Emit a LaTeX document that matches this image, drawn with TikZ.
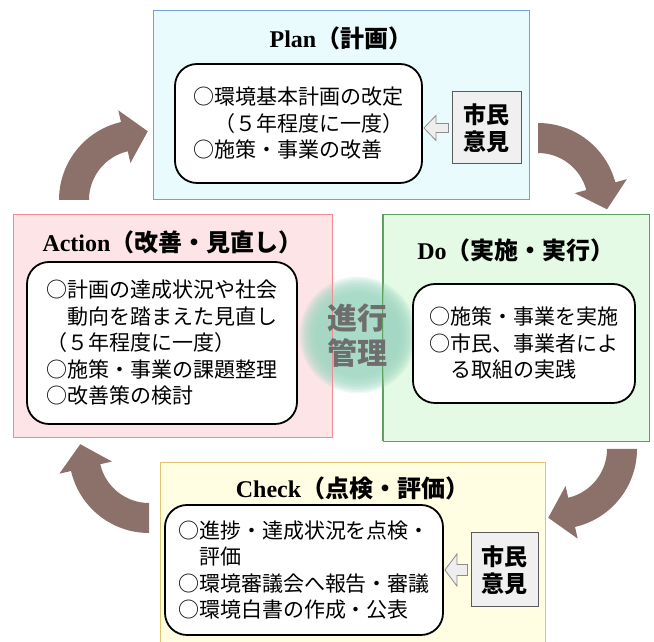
\documentclass[tikz,border=0pt]{standalone}
\usepackage{fontspec}
\setmainfont{Liberation Serif}
\newfontfamily\jp{Noto Sans CJK JP}
\usetikzlibrary{calc}

\definecolor{planfill}{RGB}{234,251,254}
\definecolor{planline}{RGB}{120,158,218}
\definecolor{dofill}{RGB}{228,250,228}
\definecolor{doline}{RGB}{96,160,96}
\definecolor{chkfill}{RGB}{255,253,226}
\definecolor{chkline}{RGB}{228,196,110}
\definecolor{actfill}{RGB}{253,228,231}
\definecolor{actline}{RGB}{240,140,145}
\definecolor{arrbrown}{RGB}{139,113,106}
\definecolor{mint}{RGB}{160,215,195}
\definecolor{kanrigray}{RGB}{110,110,110}
\definecolor{ikenfill}{RGB}{240,240,240}
\definecolor{ikenline}{RGB}{90,90,90}
\definecolor{hollowline}{RGB}{140,140,140}
\definecolor{hollowfill}{RGB}{238,238,238}

\tikzset{
  phase/.style={line width=0.9pt, inner sep=0pt},
  ttl/.style={inner sep=0pt, font=\fontsize{24}{28}\selectfont\bfseries},
  inner/.style={draw, line width=1.8pt, rounded corners=22pt, fill=white,
    align=left, inner sep=0pt, font=\jp\fontsize{21}{26.5}\selectfont},
  iken/.style={draw=ikenline, line width=1pt, fill=ikenfill, align=center,
    inner sep=0pt, font=\jp\bfseries\fontsize{23}{27}\selectfont},
  hollow/.style={draw=hollowline, fill=hollowfill, line width=0.8pt, line join=miter},
  arr/.style={fill=arrbrown},
  glowring/.style={fill=mint, opacity=0.17},
}

\newcommand{\hollowarrow}[4]{%
  \draw[hollow] let \p1=(#1.west), \p2=(#2.east) in
    (\x2+1pt,\y1) -- (\x2+13pt,\y1+#3pt) -- (\x2+13pt,\y1+#4pt)
    -- (\x1-3pt,\y1+#4pt) -- (\x1-3pt,\y1-#4pt) -- (\x2+13pt,\y1-#4pt)
    -- (\x2+13pt,\y1-#3pt) -- cycle;}

\newcommand{\cyclearrow}[3]{%
  \fill[arr] ($(#1)+(#2:80)$) arc[start angle=#2, end angle=#3, radius=80pt]
    -- ($(#1)+(#3:92)$) -- ($(#1)+(#3:65)+(#3-90:24)$) -- ($(#1)+(#3:38)$)
    -- ($(#1)+(#3:50)$) arc[start angle=#3, end angle=#2, radius=50pt] -- cycle;}

\begin{document}
\begin{tikzpicture}[x=1pt,y=1pt]
\useasboundingbox (0,0) rectangle (654,642);

% phase boxes
\node[phase, draw=planline, fill=planfill, minimum width=376pt, minimum height=189pt] (plan) at (341,537.5) {};
\node[phase, draw=doline, fill=dofill, minimum width=266pt, minimum height=227pt] (do) at (516,314.5) {};
\node[phase, draw=chkline, fill=chkfill, minimum width=385pt, minimum height=184pt] (chk) at (352.5,88) {};
\node[phase, draw=actline, fill=actfill, minimum width=319pt, minimum height=223pt] (act) at (172.5,316.5) {};

% centre circle
\node[circle, minimum size=112pt, inner sep=0pt] (pdca) at (358,307) {};
\foreach \r in {42,43.5,...,58.5}
  \fill[glowring] (pdca.center) circle[radius=\r pt];
\draw[actline, line width=0.9pt] (act.south east) -- (act.north east);
\draw[doline, line width=0.9pt] (do.south west) -- (do.north west);
\node[inner sep=0pt, align=center, text=kanrigray, font=\jp\bfseries\fontsize{30}{35}\selectfont] (kanri) at (357,306.5) {進行\\管理};

% titles
\node[ttl] (plantitle) at (341,604) {Plan{\jp（計画）}};
\node[ttl] (dotitle) at (516,392) {Do{\jp（実施・実行）}};
\node[ttl] (chktitle) at (352.5,154) {Check{\jp（点検・評価）}};
\node[ttl] (acttitle) at (172.5,400) {Action{\jp（改善・見直し）}};

% inner boxes
\node[inner, minimum width=247pt, minimum height=119pt] (pin) at (298.5,518.5)
  {○環境基本計画の改定\\\hspace*{1em}（５年程度に一度）\\○施策・事業の改善};
\node[inner, minimum width=222pt, minimum height=119pt] (din) at (524,298.5)
  {○施策・事業を実施\\○市民、事業者によ\\\hspace*{1em}る取組の実践};
\node[inner, minimum width=278pt, minimum height=130pt] (cin) at (304,72)
  {○進捗・達成状況を点検・\\\hspace*{1em}評価\\○環境審議会へ報告・審議\\○環境白書の作成・公表};
\node[inner, minimum width=270pt, minimum height=162pt] (ain) at (162,299)
  {○計画の達成状況や社会\\\hspace*{1em}動向を踏まえた見直し\\（５年程度に一度）\\○施策・事業の課題整理\\○改善策の検討};

% citizen opinion boxes
\node[iken, minimum width=69pt, minimum height=72pt] (pik) at (486.5,514) {市民\\意見};
\node[iken, minimum width=67pt, minimum height=74pt] (cik) at (504.5,72) {市民\\意見};
\hollowarrow{pik}{pin}{12.5}{4.5}
\hollowarrow{cik}{cin}{16}{5.5}

% cycle arrows
\coordinate (c1) at (139,442);
\coordinate (c2) at (538,439);
\coordinate (c3) at (557,193);
\coordinate (c4) at (149,189);
\cyclearrow{c1}{180}{103}
\cyclearrow{c2}{90}{15}
\cyclearrow{c3}{0}{-77}
\cyclearrow{c4}{270}{193}
\end{tikzpicture}
\end{document}
